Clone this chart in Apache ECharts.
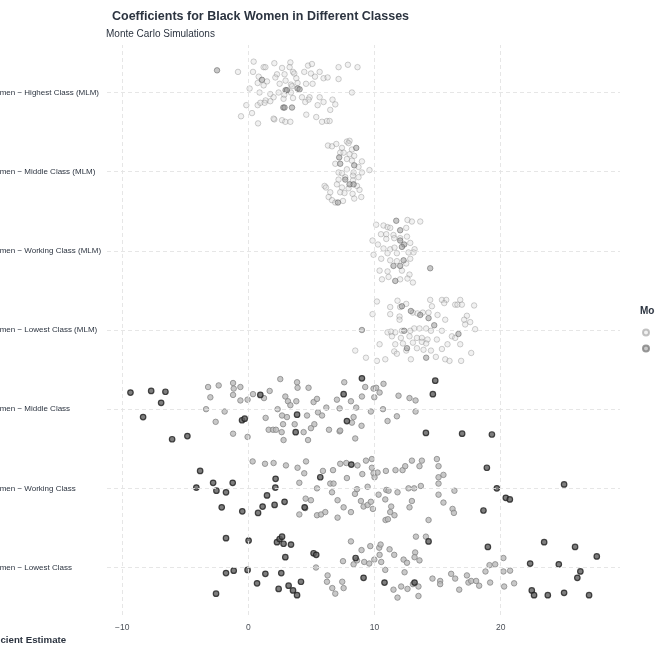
<!DOCTYPE html>
<html>
<head>
<meta charset="utf-8">
<title>Coefficients for Black Women in Different Classes</title>
<script src="https://cdn.jsdelivr.net/npm/echarts@6.0.0/dist/echarts.min.js"></script>
<style>
  html, body { margin: 0; padding: 0; background: #fff; }
  #chart { width: 655px; height: 655px; }
</style>
</head>
<body>
<div id="chart"></div>
<script>
// row labels, bottom to top
var categories = [
  'Black Women − Lowest Class',
  'Black Women − Working Class',
  'Black Women − Middle Class',
  'Black Women − Lowest Class (MLM)',
  'Black Women − Working Class (MLM)',
  'Black Women − Middle Class (MLM)',
  'Black Women − Highest Class (MLM)'
];
var xTicks = [-10, 0, 10, 20];
var seriesNames = ['MLM', 'OLS'];

// [estimate, vertical jitter inside the row]
var highestMLM = [[-0.82,0.26],[0.42,0.39],[2.06,0.37],[3.33,0.38],[1.21,0.32],[1.35,0.32],[2.67,0.31],[3.27,0.32],[4.73,0.34],[5.04,0.36],[7.15,0.32],[7.89,0.35],[8.65,0.32],[0.37,0.26],[2.27,0.23],[2.87,0.23],[3.54,0.26],[3.64,0.24],[4.43,0.26],[4.96,0.24],[5.65,0.26],[0.82,0.20],[1.48,0.14],[2.14,0.19],[2.95,0.15],[3.80,0.18],[5.28,0.20],[5.96,0.18],[6.28,0.19],[7.15,0.17],[0.74,0.12],[1.21,0.09],[2.48,0.11],[3.38,0.10],[3.90,0.12],[4.57,0.11],[5.09,0.11],[0.10,0.05],[3.46,0.08],[0.89,0.0],[1.74,-0.02],[2.40,0.0],[2.85,-0.03],[3.38,0.0],[4.25,-0.06],[4.85,-0.06],[8.21,0.0],[1.37,-0.10],[2.00,-0.06],[2.79,-0.08],[3.54,-0.07],[4.77,-0.09],[5.65,-0.06],[6.67,-0.09],[-0.16,-0.16],[0.74,-0.16],[0.95,-0.13],[1.29,-0.13],[1.74,-0.11],[4.51,-0.12],[5.49,-0.16],[5.96,-0.12],[6.49,-0.22],[6.89,-0.15],[0.29,-0.26],[-0.58,-0.30],[2.06,-0.34],[2.67,-0.35],[2.93,-0.37],[3.33,-0.37],[4.59,-0.28],[5.38,-0.31],[5.84,-0.37],[6.23,-0.36],[6.44,-0.36],[0.77,-0.39],[2.00,-0.33]];
var highestMLMDense = [[-2.48,0.28],[1.08,0.16],[2.95,0.03],[3.06,0.03],[3.90,0.05],[4.06,0.04],[2.77,-0.19],[2.87,-0.19],[3.46,-0.19]];

var middleMLM = [[6.31,0.33],[6.63,0.32],[6.97,0.35],[7.81,0.38],[8.02,0.39],[7.94,0.36],[7.42,0.30],[8.21,0.28],[7.28,0.24],[7.55,0.24],[8.02,0.22],[8.39,0.20],[7.81,0.16],[8.21,0.14],[9.00,0.13],[6.89,0.10],[8.73,0.06],[7.81,0.03],[7.15,-0.01],[7.42,-0.02],[8.34,-0.01],[9.00,-0.01],[9.60,0.02],[7.68,-0.07],[8.29,-0.05],[8.73,-0.07],[7.15,-0.10],[6.04,-0.18],[6.15,-0.20],[7.02,-0.16],[7.42,-0.20],[7.94,-0.21],[8.61,-0.18],[8.81,-0.23],[7.28,-0.26],[7.62,-0.27],[8.26,-0.28],[6.36,-0.32],[8.95,-0.32],[6.63,-0.36],[7.50,-0.37],[8.39,-0.34],[6.89,-0.39],[8.29,-0.11],[6.49,-0.26]];
var middleMLMDense = [[8.55,0.30],[7.20,0.18],[7.28,0.10],[8.39,0.08],[7.68,-0.10],[8.02,-0.16],[8.34,-0.16],[7.10,-0.39]];

var workingMLM = [[10.13,0.33],[10.71,0.32],[11.03,0.30],[12.61,0.39],[12.96,0.37],[13.62,0.37],[11.24,0.29],[12.51,0.29],[10.51,0.21],[10.93,0.21],[11.50,0.20],[12.03,0.16],[12.57,0.18],[9.84,0.13],[10.27,0.08],[10.93,0.15],[11.56,0.16],[12.83,0.10],[10.71,0.03],[11.24,0.02],[11.58,0.04],[13.17,0.02],[9.92,-0.05],[11.03,-0.03],[11.77,-0.03],[12.69,-0.02],[13.09,-0.02],[10.53,-0.10],[11.24,-0.12],[11.77,-0.13],[12.83,-0.10],[12.51,-0.16],[10.40,-0.25],[11.03,-0.26],[12.17,-0.25],[12.77,-0.30],[11.11,-0.33],[12.03,-0.36],[12.61,-0.35],[13.04,-0.40],[10.59,-0.36]];
var workingMLMDense = [[11.72,0.38],[12.03,0.26],[12.03,0.13],[12.35,0.08],[12.17,0.05],[12.30,-0.12],[11.50,-0.19],[12.03,-0.19],[11.64,-0.38],[14.41,-0.22]];

var lowestMLM = [[10.19,0.36],[9.84,0.20],[8.47,-0.26],[9.32,-0.35],[10.19,-0.39],[10.40,-0.18],[10.85,-0.37],[11.24,0.29],[11.24,0.20],[11.82,0.37],[12.03,0.29],[12.51,0.33],[11.98,0.17],[11.98,0.13],[13.04,0.22],[13.40,0.21],[13.83,0.22],[14.28,0.22],[14.41,0.38],[14.55,0.30],[14.99,0.19],[15.34,0.38],[15.68,0.38],[15.52,0.34],[15.60,0.13],[16.39,0.32],[16.57,0.32],[16.79,0.38],[16.92,0.32],[17.89,0.31],[17.32,0.18],[17.10,0.13],[17.58,0.10],[17.18,0.07],[17.97,0.01],[14.09,0.02],[13.56,0.02],[13.14,0.02],[12.83,-0.01],[12.17,-0.01],[11.64,-0.03],[11.03,-0.03],[11.30,-0.02],[11.38,-0.08],[12.09,-0.10],[12.77,-0.08],[13.36,-0.10],[13.75,-0.10],[14.20,-0.12],[14.94,-0.12],[15.34,-0.01],[14.47,-0.01],[16.13,-0.08],[16.39,-0.10],[15.78,-0.18],[16.79,-0.18],[11.64,-0.18],[12.25,-0.17],[13.04,-0.16],[13.75,-0.15],[14.09,-0.17],[12.51,-0.26],[13.36,-0.23],[13.88,-0.25],[14.47,-0.26],[15.34,-0.24],[11.56,-0.27],[11.77,-0.30],[12.88,-0.37],[14.86,-0.34],[15.60,-0.37],[15.94,-0.39],[16.86,-0.39],[17.66,-0.29]];
var lowestMLMDense = [[9.00,0.0],[12.17,0.30],[12.88,0.24],[13.62,0.19],[14.28,0.15],[14.73,0.06],[12.35,-0.01],[16.65,-0.05],[12.57,-0.23],[14.09,-0.35]];

var middleOLS = [[-3.19,0.28],[-2.35,0.30],[-1.21,0.33],[-1.16,0.26],[-0.63,0.28],[-3.01,0.15],[-1.21,0.18],[-0.63,0.11],[-0.06,0.12],[0.37,0.19],[1.24,0.14],[1.69,0.23],[2.53,0.38],[3.86,0.34],[3.90,0.27],[4.77,0.27],[2.93,0.16],[3.14,0.10],[3.33,0.05],[3.80,0.10],[5.17,0.09],[5.44,0.13],[-3.35,0.0],[-1.88,-0.03],[2.32,0.0],[2.67,-0.08],[3.06,-0.10],[4.65,-0.08],[5.52,-0.04],[5.84,-0.08],[6.18,0.02],[7.02,0.12],[7.23,0.01],[7.60,0.34],[8.13,0.10],[8.55,0.02],[9.00,0.16],[9.26,0.28],[9.71,-0.03],[-2.59,-0.16],[-1.21,-0.31],[-0.06,-0.35],[1.37,-0.11],[1.61,-0.26],[1.96,-0.26],[2.19,-0.26],[2.75,-0.19],[2.64,-0.29],[2.79,-0.39],[3.67,-0.19],[4.38,-0.29],[4.73,-0.39],[4.96,-0.24],[5.23,-0.19],[6.39,-0.26],[7.23,-0.28],[8.34,-0.10],[8.47,-0.37],[8.97,-0.21],[9.92,0.26],[10.13,0.27],[10.40,0.21],[10.71,0.32],[10.67,0.0],[11.03,-0.15],[11.77,-0.09],[11.90,0.17],[12.77,0.14],[13.25,0.11],[13.25,-0.03],[8.21,-0.17],[7.28,-0.27],[9.98,0.15]];
var middleOLSDense = [[-9.34,0.21],[-7.70,0.23],[-6.57,0.22],[-6.91,0.08],[-8.34,-0.10],[-6.04,-0.38],[-4.83,-0.34],[-0.50,-0.14],[-0.29,-0.12],[0.95,0.18],[3.86,-0.07],[3.75,-0.29],[7.55,0.19],[7.81,-0.15],[9.00,0.39],[14.81,0.36],[14.62,0.19],[14.07,-0.30],[16.94,-0.31],[19.30,-0.32]];

var workingOLS = [[0.34,0.34],[1.32,0.31],[2.00,0.32],[2.98,0.29],[3.90,0.26],[4.57,0.34],[4.04,0.07],[4.43,0.19],[5.44,0.0],[5.91,0.22],[6.49,0.06],[6.75,0.06],[6.71,0.23],[7.28,0.31],[7.76,0.32],[8.65,0.29],[9.32,0.35],[9.79,0.37],[9.79,0.26],[9.92,0.19],[10.0,0.14],[10.24,0.20],[10.90,0.22],[11.66,0.23],[12.22,0.23],[12.43,0.28],[12.96,0.35],[13.56,0.28],[13.75,0.35],[14.94,0.37],[15.07,0.28],[15.07,0.14],[15.46,0.17],[7.81,0.13],[9.03,0.18],[9.45,0.02],[6.63,-0.05],[8.61,-0.01],[10.32,-0.08],[10.93,-0.02],[11.11,-0.03],[11.82,-0.05],[12.69,0.0],[13.14,0.0],[13.67,0.03],[15.07,0.06],[4.54,-0.13],[4.96,-0.15],[4.51,-0.25],[4.04,-0.33],[5.44,-0.34],[5.76,-0.33],[6.10,-0.30],[7.07,-0.15],[7.55,-0.24],[7.07,-0.37],[8.13,-0.30],[8.45,-0.07],[8.92,-0.16],[9.13,-0.23],[9.45,-0.21],[9.71,-0.17],[9.87,-0.26],[10.85,-0.14],[11.32,-0.23],[11.24,-0.30],[11.58,-0.34],[10.87,-0.40],[11.06,-0.39],[12.77,-0.24],[12.96,-0.16],[14.28,-0.40],[15.07,-0.08],[15.46,-0.18],[16.33,-0.03],[16.18,-0.26],[16.29,-0.31]];
var workingOLSDense = [[-3.82,0.22],[-4.12,0.01],[-2.79,0.07],[-2.53,-0.03],[-1.77,-0.05],[-1.24,0.07],[-2.11,-0.24],[-0.48,-0.29],[0.77,-0.31],[1.13,-0.23],[1.48,-0.09],[2.08,-0.21],[2.87,-0.17],[2.16,0.12],[2.14,0.01],[4.46,-0.24],[5.70,0.14],[8.16,0.30],[18.90,0.26],[19.69,0.0],[20.40,-0.12],[20.72,-0.14],[18.63,-0.28],[25.02,0.05]];

var lowestOLS = [[5.36,0.0],[6.28,-0.10],[6.23,-0.18],[6.65,-0.26],[6.89,-0.33],[7.44,-0.18],[7.55,-0.26],[7.50,0.08],[8.13,0.33],[8.34,0.04],[8.61,0.09],[8.97,0.22],[9.18,0.07],[9.58,0.05],[9.66,0.27],[9.98,0.10],[10.37,0.25],[10.48,0.29],[10.40,0.16],[10.53,0.07],[10.85,-0.03],[11.19,0.23],[11.56,0.16],[11.50,-0.28],[11.82,-0.38],[12.11,-0.24],[12.30,0.10],[12.57,0.06],[12.61,-0.27],[13.28,0.39],[14.07,0.39],[13.22,0.19],[13.17,0.13],[13.56,0.09],[12.38,-0.06],[13.04,-0.21],[13.48,-0.24],[13.48,-0.36],[14.59,-0.14],[15.20,-0.17],[15.20,-0.21],[16.07,-0.08],[16.39,-0.14],[16.71,-0.28],[17.32,-0.10],[17.44,-0.19],[17.66,-0.17],[18.05,-0.17],[18.29,-0.23],[18.79,-0.05],[19.11,0.03],[19.56,0.04],[19.16,-0.19],[20.21,0.12],[20.21,-0.05],[20.74,-0.04],[20.27,-0.24],[21.06,-0.20]];
var lowestOLSDense = [[-1.77,0.37],[0.02,0.34],[2.27,0.32],[2.48,0.36],[2.67,0.39],[2.79,0.30],[3.38,0.29],[2.93,0.13],[5.17,0.18],[5.38,0.16],[-1.77,-0.07],[-1.16,-0.04],[-0.06,-0.03],[1.35,-0.08],[2.61,-0.07],[0.69,-0.20],[2.40,-0.27],[3.19,-0.23],[3.54,-0.29],[3.86,-0.35],[4.17,-0.18],[-2.56,-0.33],[8.50,0.12],[9.13,-0.13],[10.79,-0.19],[14.28,0.33],[13.17,-0.19],[18.98,0.26],[22.33,0.05],[23.44,0.32],[24.60,0.04],[25.89,0.26],[27.61,0.14],[26.31,-0.05],[26.07,-0.13],[22.46,-0.29],[22.64,-0.35],[23.73,-0.35],[25.02,-0.32],[27.00,-0.35]];

var FONT = 'Liberation Sans, Arial, sans-serif';
var INK = '#2c3440';

// put each row's points on its category position
function place(rows) {
  var out = [];
  rows.forEach(function (r) {
    r[0].forEach(function (p) { out.push([p[0], r[1] + p[1]]); });
  });
  return out;
}

var chart = echarts.init(document.getElementById('chart'));

var option = {
  animation: false,
  backgroundColor: '#fff',
  textStyle: { fontFamily: FONT },
  title: [{
    text: 'Coefficients for Black Women in Different Classes',
    left: 112, top: 10, padding: 0,
    textStyle: { fontSize: 12.5, fontWeight: 'bold', color: INK, fontFamily: FONT }
  }, {
    text: 'Monte Carlo Simulations',
    left: 106, top: 29, padding: 0,
    textStyle: { fontSize: 10, fontWeight: 'normal', color: INK, fontFamily: FONT }
  }],
  legend: {
    data: seriesNames,
    orient: 'vertical',
    left: 642, top: 328, padding: 0,
    itemWidth: 6, itemHeight: 6, itemGap: 7,
    icon: 'circle',
    textStyle: { fontSize: 9, color: INK, padding: [0, 0, 0, 10] }
  },
  graphic: [{
    type: 'text', x: -27, y: 640,
    style: { text: 'Coefficient Estimate', fill: INK, font: 'bold 9.7px ' + FONT, verticalAlign: 'middle', textVerticalAlign: 'middle' }
  }, {
    type: 'text', x: 640, y: 311,
    style: { text: 'Model', fill: INK, font: 'bold 10px ' + FONT, verticalAlign: 'middle', textVerticalAlign: 'middle' }
  }],
  grid: { left: 107, right: 35, top: 45, bottom: 40, outerBoundsMode: 'none', containLabel: false },
  xAxis: {
    type: 'value', min: -11.2, max: 29.45, splitNumber: 4,
    axisLine: { show: false }, axisTick: { show: false }, splitLine: { show: false },
    axisLabel: {
      fontSize: 8.5, color: '#4a4f57', margin: 8,
      formatter: function (v) {
        if (xTicks.indexOf(v) < 0) return '';
        return v < 0 ? '−' + Math.abs(v) : String(v);
      }
    }
  },
  yAxis: {
    type: 'value', min: -0.6, max: 6.6, splitNumber: 7,
    axisLine: { show: false }, axisTick: { show: false }, splitLine: { show: false },
    axisLabel: {
      fontSize: 8, color: INK, align: 'left', margin: 141,
      formatter: function (v) {
        return Number.isInteger(v) && categories[v] ? categories[v] : '';
      }
    }
  },
  series: [{
    type: 'scatter', name: 'gridlines', data: [], silent: true,
    markLine: {
      silent: true, symbol: ['none', 'none'], animation: false,
      label: { show: false },
      lineStyle: { color: '#e3e3e3', width: 0.9, type: [4, 3] },
      emphasis: { disabled: true },
      data: xTicks.map(function (v) { return { xAxis: v }; })
        .concat(categories.map(function (c, i) { return { yAxis: i }; }))
    }
  }, {
    type: 'scatter', name: seriesNames[0], symbolSize: 5.5,
    itemStyle: { color: 'rgba(215,215,215,0.45)', borderColor: 'rgba(120,120,120,0.55)', borderWidth: 0.8 },
    data: place([[highestMLM, 6], [middleMLM, 5], [workingMLM, 4], [lowestMLM, 3]])
  }, {
    type: 'scatter', name: seriesNames[0], symbolSize: 5.5,
    itemStyle: { color: 'rgba(150,150,150,0.65)', borderColor: 'rgba(85,85,85,0.7)', borderWidth: 0.9 },
    data: place([[highestMLMDense, 6], [middleMLMDense, 5], [workingMLMDense, 4], [lowestMLMDense, 3]])
  }, {
    type: 'scatter', name: seriesNames[1], symbolSize: 5.5,
    itemStyle: { color: '#bababa', borderColor: '#7f7f7f', borderWidth: 0.9 },
    data: place([[middleOLS, 2], [workingOLS, 1], [lowestOLS, 0]])
  }, {
    type: 'scatter', name: seriesNames[1], symbolSize: 5.5,
    itemStyle: { color: '#5e5e5e', borderColor: '#1e1e1e', borderWidth: 1.2 },
    data: place([[middleOLSDense, 2], [workingOLSDense, 1], [lowestOLSDense, 0]])
  }]
};

chart.setOption(option);
</script>
</body>
</html>
